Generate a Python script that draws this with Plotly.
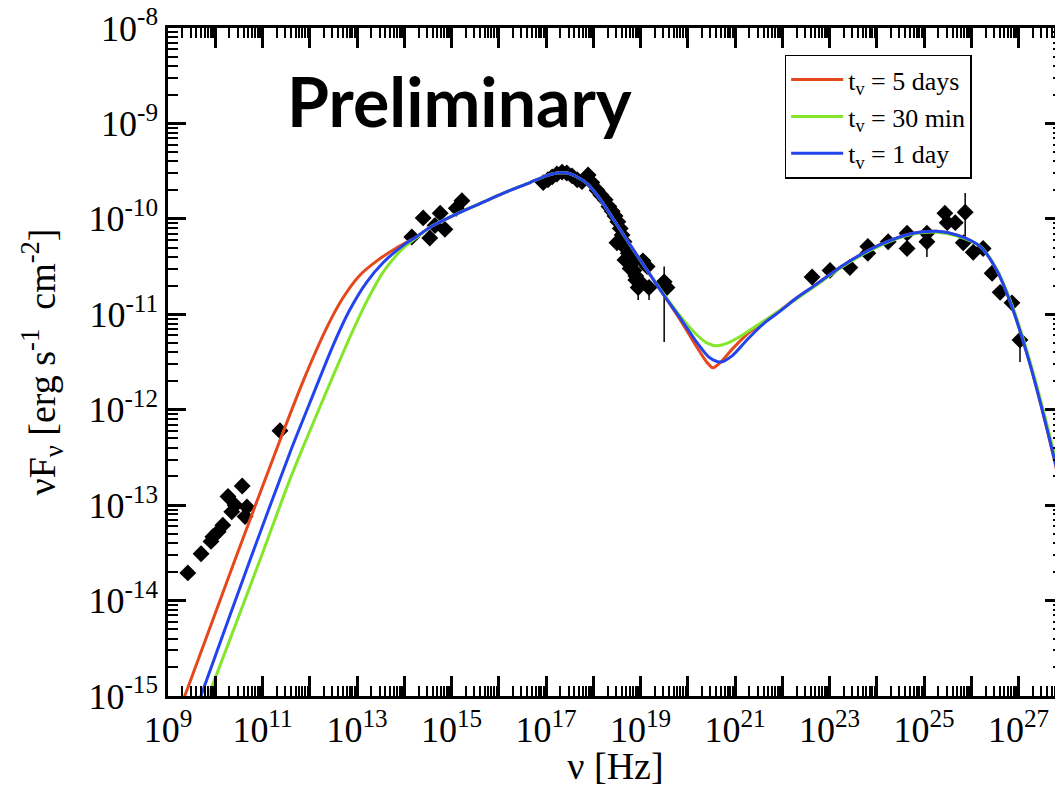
import plotly.graph_objects as go

# ---------------- data (log10 values) ----------------
# observed SED points (log10 nu [Hz], log10 nuFnu)
pts_lognu = [9.42, 9.70, 9.91, 9.95, 10.06, 10.16, 10.27, 10.35, 10.42, 10.57, 10.63, 10.67, 11.37,
             14.16, 14.40, 14.54, 14.65, 14.76, 14.86, 15.10, 15.22,
             16.94, 17.04, 17.13, 17.23, 17.34, 17.44, 17.55, 17.66, 17.76, 17.89, 17.97, 18.08,
             18.16, 18.25, 18.33, 18.40, 18.46, 18.52, 18.57, 18.61, 18.65, 18.69, 18.74, 18.78,
             18.82, 18.86, 18.90, 18.99, 19.05, 19.14, 18.50, 18.67, 18.78, 18.90, 19.56,
             22.63, 23.01, 23.43, 23.81, 23.81, 24.24, 24.64, 24.64, 25.06, 25.44, 25.49, 25.66,
             25.83, 26.04, 26.25, 26.44, 26.61, 26.86]
pts_logF = [-13.71, -13.51, -13.38, -13.33, -13.28, -13.21, -12.91, -13.07, -13.00, -12.80, -13.12, -13.02, -12.22,
            -10.19, -9.99, -10.20, -10.07, -9.94, -10.11, -9.89, -9.81,
            -9.62, -9.59, -9.56, -9.53, -9.51, -9.52, -9.55, -9.59, -9.61, -9.54, -9.62, -9.70,
            -9.75, -9.80, -9.87, -9.92, -9.97, -10.03, -10.10, -10.17, -10.24, -10.31, -10.36, -10.41,
            -10.47, -10.54, -10.60, -10.66, -10.44, -10.50, -10.25, -10.43, -10.52, -10.64, -10.72,
            -10.61, -10.54, -10.51, -10.29, -10.36, -10.24, -10.15, -10.31, -10.15, -9.94, -10.04, -10.04,
            -10.25, -10.35, -10.31, -10.57, -10.77, -10.88]

# points with error bars
err_lognu = [18.95, 19.18, 19.50, 25.06, 25.87, 27.03]
err_logF = [-10.72, -10.72, -10.66, -10.24, -9.93, -11.27]
err_hi = [-10.64, -10.66, -10.50, -10.10, -9.73, -11.13]
err_lo = [-10.85, -10.85, -11.29, -10.40, -10.22, -11.50]

# model curves
red_lognu = [9.30, 9.40, 10.42, 11.37, 11.86, 12.37, 12.70, 13.06, 13.42, 13.85, 14.25,
             14.54, 15.10, 15.60, 16.10, 16.66, 17.00, 17.23, 17.45, 17.65, 17.87, 18.08, 18.29, 18.71,
             19.14, 19.48, 19.84, 20.20, 20.40, 20.53, 20.70, 20.95, 21.30, 21.60, 21.95,
             22.30, 22.65, 23.37, 24.07, 24.77, 25.27, 25.70, 26.19, 26.54, 26.88, 27.24, 27.52,
             27.73, 27.84, 27.90, 27.94]
red_logF = [-15.07, -14.94, -13.57, -12.32, -11.70, -11.13, -10.83, -10.59, -10.44, -10.30, -10.19,
            -10.09, -9.95, -9.84, -9.73, -9.62, -9.55, -9.52, -9.52, -9.56, -9.63, -9.75, -9.90, -10.22,
            -10.54, -10.79, -11.06, -11.35, -11.50, -11.56, -11.50, -11.36, -11.19, -11.08, -10.96,
            -10.83, -10.71, -10.46, -10.27, -10.15, -10.13, -10.17, -10.29, -10.54, -10.95, -11.52, -12.04,
            -12.47, -12.72, -12.98, -13.30]

green_lognu = [9.80, 10.04, 10.95, 11.58, 11.86, 12.37, 12.85, 13.21, 13.55, 13.97, 14.25,
               14.54, 15.10, 15.60, 16.10, 16.66, 17.00, 17.23, 17.45, 17.65, 17.87, 18.08, 18.29, 18.71,
               19.14, 19.48, 19.84, 20.20, 20.40, 20.62, 20.85, 21.15, 21.55, 21.95,
               22.30, 22.65, 23.37, 24.07, 24.77, 25.27, 25.70, 26.19, 26.54, 26.88, 27.24, 27.52,
               27.73, 27.94]
green_logF = [-15.07, -14.76, -13.57, -12.73, -12.39, -11.79, -11.24, -10.86, -10.56, -10.31, -10.20,
              -10.09, -9.95, -9.84, -9.73, -9.62, -9.55, -9.52, -9.52, -9.56, -9.63, -9.75, -9.90, -10.22,
              -10.54, -10.78, -11.02, -11.22, -11.30, -11.33, -11.30, -11.22, -11.09, -10.96,
              -10.84, -10.72, -10.47, -10.28, -10.16, -10.14, -10.18, -10.29, -10.53, -10.93, -11.49, -12.00,
              -12.41, -12.83]

blue_lognu = [9.65, 9.74, 10.74, 11.58, 12.00, 12.49, 12.85, 13.21, 13.55, 13.97, 14.25,
              14.54, 15.10, 15.60, 16.10, 16.66, 17.00, 17.23, 17.45, 17.65, 17.87, 18.08, 18.29, 18.71,
              19.14, 19.48, 19.84, 20.20, 20.45, 20.70, 20.95, 21.25, 21.60, 21.95,
              22.30, 22.65, 23.37, 24.07, 24.77, 25.27, 25.70, 26.19, 26.54, 26.88, 27.24, 27.52,
              27.73, 27.94]
blue_logF = [-15.07, -14.94, -13.57, -12.45, -11.93, -11.33, -10.95, -10.66, -10.46, -10.28, -10.19,
             -10.09, -9.95, -9.84, -9.73, -9.62, -9.55, -9.52, -9.52, -9.56, -9.63, -9.75, -9.90, -10.22,
             -10.54, -10.79, -11.04, -11.30, -11.45, -11.50, -11.43, -11.27, -11.10, -10.97,
             -10.83, -10.71, -10.46, -10.27, -10.15, -10.13, -10.17, -10.29, -10.54, -10.95, -11.52, -12.04,
             -12.46, -12.89]

series_names = ["t<sub>v</sub> = 5 days", "t<sub>v</sub> = 30 min", "t<sub>v</sub> = 1 day"]
series_colors = ["#e4481c", "#84e62a", "#2244ee"]

x_exps = list(range(9, 28))
y_exps = list(range(-15, -7))


def lin(vals):
    return [10.0 ** v for v in vals]


SERIF = "Liberation Serif"

fig = go.Figure()

fig.add_trace(go.Scatter(
    x=lin(pts_lognu), y=lin(pts_logF), mode="markers",
    marker=dict(symbol="diamond", size=13, color="black"),
    showlegend=False, hoverinfo="skip"))

fig.add_trace(go.Scatter(
    x=lin(err_lognu), y=lin(err_logF), mode="markers",
    marker=dict(symbol="diamond", size=13, color="black"),
    error_y=dict(type="data", symmetric=False,
                 array=[10.0 ** h - 10.0 ** f for h, f in zip(err_hi, err_logF)],
                 arrayminus=[10.0 ** f - 10.0 ** l for f, l in zip(err_logF, err_lo)],
                 color="black", thickness=1.5, width=0),
    showlegend=False, hoverinfo="skip"))

curves = [(red_lognu, red_logF), (green_lognu, green_logF), (blue_lognu, blue_logF)]
for i, ((xs, ys), name, col) in enumerate(zip(curves, series_names, series_colors)):
    fig.add_trace(go.Scatter(
        x=lin(xs), y=lin(ys), mode="lines", name=name, legendgroup=f"g{i}",
        line=dict(color=col, width=3, shape="spline", smoothing=0.8)))

axis_common = dict(
    ticks="inside", tickwidth=2.5, tickcolor="black",
    showline=True, linewidth=2.5, linecolor="black", mirror="allticks",
    showgrid=False, zeroline=False, ticklabeloverflow="allow",
    tickfont=dict(family=SERIF, size=36, color="black"),
)

minor_x = [m * 10.0 ** k for k in range(9, 28) for m in range(2, 10)]
minor_y = [m * 10.0 ** k for k in range(-15, -8) for m in range(2, 10)]

fig.update_xaxes(
    type="log", range=[9, 27.94],
    tickmode="array", tickvals=[10.0 ** k for k in x_exps],
    ticktext=[f"10<sup>{k}</sup>" if (k - 9) % 2 == 0 else "" for k in x_exps],
    ticklen=20,
    minor=dict(ticks="inside", ticklen=10, tickwidth=2, tickcolor="black",
               tickmode="array", tickvals=minor_x, showgrid=False),
    title=dict(text="ν [Hz]", font=dict(family=SERIF, size=38, color="black"), standoff=0),
    **axis_common)

fig.update_yaxes(
    type="log", range=[-15, -8],
    tickmode="array", tickvals=[10.0 ** k for k in y_exps],
    ticktext=[f"10<sup>{k}</sup>" for k in y_exps],
    ticklen=18,
    minor=dict(ticks="inside", ticklen=10, tickwidth=2, tickcolor="black",
               tickmode="array", tickvals=minor_y, showgrid=False),
    title=dict(text="νF<sub>ν</sub> [erg s<sup>-1</sup>  cm<sup>-2</sup>]",
               font=dict(family=SERIF, size=38, color="black"), standoff=22),
    **axis_common)

fig.add_annotation(
    text="<b>Preliminary</b>", xref="paper", yref="paper", x=0.326, y=0.892,
    xanchor="center", yanchor="middle", showarrow=False,
    font=dict(family="Lato", size=68, color="black"))

# the page adds an 8 px body margin, so the figure is 8 px smaller and margins shifted
fig.update_layout(
    width=1055, height=779,
    margin=dict(l=160, r=0, t=20, b=91, autoexpand=False),
    paper_bgcolor="white", plot_bgcolor="white",
    legend=dict(x=0.689, y=0.96, xanchor="left", yanchor="top",
                bgcolor="white", bordercolor="black", borderwidth=1.5,
                font=dict(family=SERIF, size=26, color="black"),
                tracegroupgap=0, itemwidth=52),
    showlegend=True,
)

fig.write_html("out.html")
